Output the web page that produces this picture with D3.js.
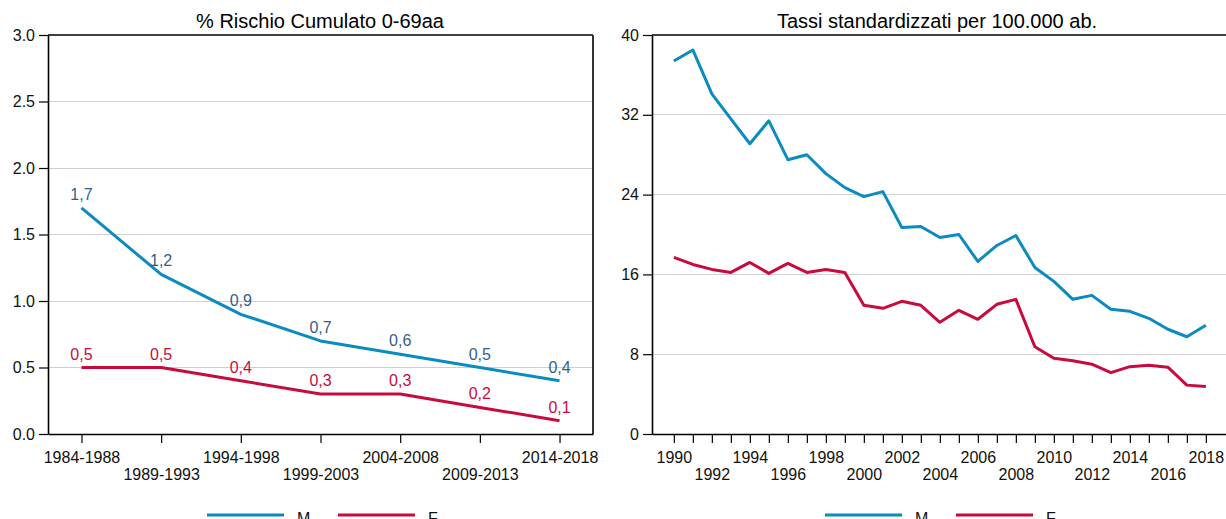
<!DOCTYPE html>
<html lang="it">
<head>
<meta charset="UTF-8">
<title>Rischio cumulato e tassi standardizzati</title>
<script src="https://cdn.jsdelivr.net/npm/d3@7"></script>
<style>
    body { margin: 0; background: #fff; }
    svg { display: block; font-family: "Liberation Sans", Arial, sans-serif; }
    .title { font-size: 20px; fill: #000; text-anchor: middle; }
    .axis text { font-size: 16px; fill: #111; font-family: "Liberation Sans", Arial, sans-serif; }
    .axis .domain { stroke: #000; stroke-width: 1.6px; }
    .axis .tick line { stroke: #000; stroke-width: 1.2px; }
    .grid line { stroke: #cfcfcf; stroke-width: 1px; shape-rendering: crispEdges; }
    .series { fill: none; stroke-width: 3px; stroke-linejoin: round; }
    .lbl { font-size: 16px; text-anchor: middle; }
    .legend text { font-size: 16px; fill: #111; }
</style>
</head>
<body>
<svg id="chart" width="1226" height="519"></svg>
<script>
// --- data: left panel (5-year periods, % cumulative risk 0-69)
const periods = ["1984-1988", "1989-1993", "1994-1998", "1999-2003", "2004-2008", "2009-2013", "2014-2018"];
const riskM = [1.7, 1.2, 0.9, 0.7, 0.6, 0.5, 0.4];
const riskF = [0.5, 0.5, 0.4, 0.3, 0.3, 0.2, 0.1];
const riskTicks = [0, 0.5, 1.0, 1.5, 2.0, 2.5, 3.0];

// --- data: right panel (yearly standardized rates per 100.000)
const years = [1990, 1991, 1992, 1993, 1994, 1995, 1996, 1997, 1998, 1999,
               2000, 2001, 2002, 2003, 2004, 2005, 2006, 2007, 2008, 2009,
               2010, 2011, 2012, 2013, 2014, 2015, 2016, 2017, 2018];
const rateM = [37.4, 38.5, 34.1, 31.6, 29.1, 31.4, 27.5, 28.0, 26.1, 24.7,
               23.8, 24.3, 20.7, 20.8, 19.7, 20.0, 17.3, 18.9, 19.9, 16.7,
               15.3, 13.5, 13.9, 12.5, 12.3, 11.6, 10.5, 9.75, 10.9];
const rateF = [17.7, 17.0, 16.5, 16.2, 17.2, 16.1, 17.1, 16.2, 16.5, 16.2,
               12.9, 12.6, 13.3, 12.9, 11.2, 12.4, 11.5, 13.0, 13.5, 8.75,
               7.6, 7.35, 7.0, 6.15, 6.75, 6.9, 6.7, 4.9, 4.75];
const rateTicks = [0, 8, 16, 24, 32, 40];
const yearLabels = [1990, 1992, 1994, 1996, 1998, 2000, 2002, 2004, 2006, 2008, 2010, 2012, 2014, 2016, 2018];

const colM = "#0b8bbf", colF = "#c90a3e";
const lblM = "#345d8a", lblF = "#c90a3e";

const it = d3.formatLocale({ decimal: ",", thousands: ".", grouping: [3], currency: ["", "€"] });
const fmtLbl = it.format(".1f");

const svg = d3.select("#chart");
const plotTop = 35, plotBottom = 434;

// ================= left panel =================
const L = { left: 48, right: 593 };
const xL = d3.scalePoint().domain(periods).range([L.left, L.right]).padding(0.42);
const yL = d3.scaleLinear().domain([0, 3]).range([plotBottom, plotTop]);

const gL = svg.append("g");

gL.append("g").attr("class", "grid")
    .selectAll("line").data(riskTicks.filter(d => d > 0 && d < 3)).enter().append("line")
    .attr("x1", L.left).attr("x2", L.right)
    .attr("y1", d => yL(d)).attr("y2", d => yL(d));

// frame top + right
gL.append("line").attr("x1", L.left).attr("x2", L.right).attr("y1", plotTop).attr("y2", plotTop)
    .attr("stroke", "#000").attr("stroke-width", 1.5);
gL.append("line").attr("x1", L.right).attr("x2", L.right).attr("y1", plotTop).attr("y2", plotBottom)
    .attr("stroke", "#333").attr("stroke-width", 2);

gL.append("g").attr("class", "axis")
    .attr("transform", `translate(${L.left},0)`)
    .call(d3.axisLeft(yL).tickValues(riskTicks).tickSize(9).tickSizeOuter(0).tickPadding(4).tickFormat(d3.format(".1f")));

const axL = gL.append("g").attr("class", "axis")
    .attr("transform", `translate(0,${plotBottom})`)
    .call(d3.axisBottom(xL).tickSize(9).tickSizeOuter(0));
axL.selectAll(".tick text").attr("y", (d, i) => i % 2 === 0 ? 18 : 35).attr("dy", "0.71em");

const lineL = d3.line().x((d, i) => xL(periods[i])).y(d => yL(d));
[[riskF, colF, lblF], [riskM, colM, lblM]].forEach(([vals, c, lc]) => {
    gL.append("path").datum(vals).attr("class", "series").attr("stroke", c).attr("d", lineL);
    gL.selectAll(null).data(vals).enter().append("text")
        .attr("class", "lbl").attr("fill", lc)
        .attr("x", (d, i) => xL(periods[i]))
        .attr("y", d => yL(d) - 8)
        .text(d => fmtLbl(d));
});

gL.append("text").attr("class", "title").attr("x", 320).attr("y", 28).text("% Rischio Cumulato 0-69aa");

// ================= right panel =================
const R = { left: 652 };
const xR = d3.scaleLinear().domain([1988.85, 2019.95]).range([R.left, R.left + 31.1 * 19]);
const yR = d3.scaleLinear().domain([0, 40]).range([plotBottom, plotTop]);
const rightEdge = xR.range()[1];

const gR = svg.append("g");

gR.append("g").attr("class", "grid")
    .selectAll("line").data(rateTicks.filter(d => d > 0 && d < 40)).enter().append("line")
    .attr("x1", R.left).attr("x2", rightEdge)
    .attr("y1", d => yR(d)).attr("y2", d => yR(d));

gR.append("line").attr("x1", R.left).attr("x2", rightEdge).attr("y1", plotTop).attr("y2", plotTop)
    .attr("stroke", "#000").attr("stroke-width", 1.5);

gR.append("g").attr("class", "axis")
    .attr("transform", `translate(${R.left},0)`)
    .call(d3.axisLeft(yR).tickValues(rateTicks).tickSize(9).tickSizeOuter(0).tickPadding(4));

const axR = gR.append("g").attr("class", "axis")
    .attr("transform", `translate(0,${plotBottom})`)
    .call(d3.axisBottom(xR).tickValues(years).tickSize(9).tickSizeOuter(0)
        .tickFormat(d => yearLabels.includes(d) ? String(d) : ""));
axR.selectAll(".tick text")
    .attr("y", d => (yearLabels.indexOf(d) % 2 === 0) ? 18 : 35).attr("dy", "0.71em");

const lineR = d3.line().x((d, i) => xR(years[i])).y(d => yR(d));
gR.append("path").datum(rateF).attr("class", "series").attr("stroke", colF).attr("d", lineR);
gR.append("path").datum(rateM).attr("class", "series").attr("stroke", colM).attr("d", lineR);

gR.append("text").attr("class", "title").attr("x", 937).attr("y", 28).text("Tassi standardizzati per 100.000 ab.");

// ================= legends =================
function legend(x0) {
    const g = svg.append("g").attr("class", "legend").attr("transform", `translate(${x0},515)`);
    [["M", colM, 0], ["F", colF, 131]].forEach(([name, c, dx]) => {
        g.append("line").attr("x1", dx).attr("x2", dx + 77).attr("y1", 0).attr("y2", 0)
            .attr("stroke", c).attr("stroke-width", 3);
        g.append("text").attr("x", dx + 90).attr("y", 9).text(name);
    });
}
legend(207);
legend(825);
</script>
</body>
</html>
